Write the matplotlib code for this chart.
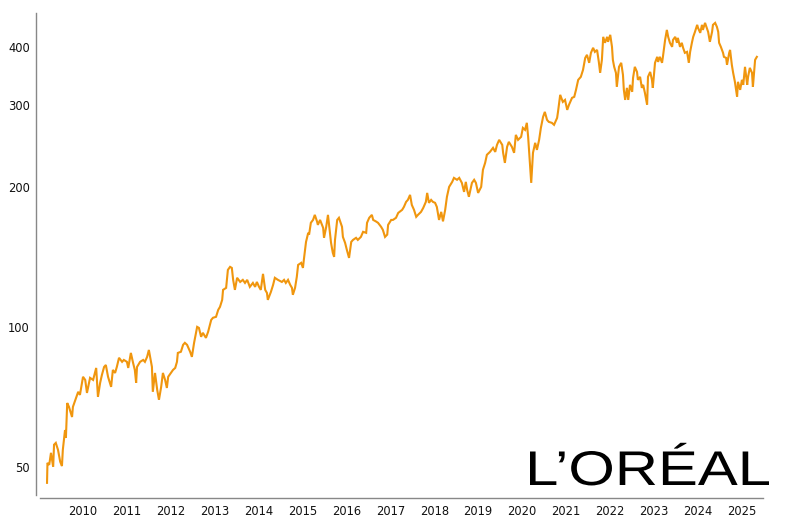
import matplotlib
matplotlib.use("Agg")
import matplotlib.pyplot as plt
import matplotlib.ticker as mticker
import matplotlib.transforms as mtransforms
from matplotlib.textpath import TextPath
from matplotlib.patches import PathPatch
from matplotlib.font_manager import FontProperties

# share price (decimal year, EUR)
years = [
    2009.18, 2009.19, 2009.23, 2009.27, 2009.32, 2009.34, 2009.38, 2009.43, 2009.48, 2009.52,
    2009.54, 2009.59, 2009.61, 2009.64, 2009.68, 2009.75, 2009.77, 2009.84, 2009.89, 2009.93,
    2010.00, 2010.05, 2010.09, 2010.16, 2010.23, 2010.30, 2010.34, 2010.39, 2010.43, 2010.48,
    2010.52, 2010.57, 2010.64, 2010.68, 2010.73, 2010.77, 2010.82, 2010.89, 2010.93, 2011.00,
    2011.03, 2011.09, 2011.14, 2011.18, 2011.21, 2011.23, 2011.30, 2011.37, 2011.41, 2011.46,
    2011.50, 2011.57, 2011.59, 2011.64, 2011.69, 2011.73, 2011.78, 2011.82, 2011.87, 2011.91,
    2011.94, 2012.00, 2012.05, 2012.10, 2012.14, 2012.16, 2012.23, 2012.28, 2012.32, 2012.37,
    2012.44, 2012.48, 2012.53, 2012.60, 2012.64, 2012.69, 2012.73, 2012.80, 2012.85, 2012.92,
    2012.96, 2013.03, 2013.08, 2013.12, 2013.17, 2013.19, 2013.26, 2013.30, 2013.35, 2013.39,
    2013.42, 2013.46, 2013.51, 2013.58, 2013.64, 2013.69, 2013.74, 2013.80, 2013.87, 2013.92,
    2013.96, 2014.01, 2014.05, 2014.10, 2014.15, 2014.19, 2014.21, 2014.28, 2014.33, 2014.37,
    2014.44, 2014.53, 2014.58, 2014.62, 2014.67, 2014.72, 2014.76, 2014.78, 2014.83, 2014.87,
    2014.90, 2014.97, 2015.01, 2015.03, 2015.08, 2015.13, 2015.15, 2015.19, 2015.24, 2015.28,
    2015.33, 2015.35, 2015.40, 2015.47, 2015.49, 2015.54, 2015.58, 2015.60, 2015.65, 2015.69,
    2015.72, 2015.74, 2015.79, 2015.83, 2015.90, 2015.92, 2015.97, 2016.01, 2016.06, 2016.11,
    2016.15, 2016.22, 2016.26, 2016.33, 2016.38, 2016.45, 2016.47, 2016.52, 2016.58, 2016.61,
    2016.67, 2016.72, 2016.79, 2016.83, 2016.88, 2016.93, 2016.95, 2017.02, 2017.06, 2017.13,
    2017.18, 2017.27, 2017.31, 2017.36, 2017.40, 2017.45, 2017.49, 2017.54, 2017.59, 2017.63,
    2017.70, 2017.75, 2017.81, 2017.84, 2017.88, 2017.93, 2017.97, 2018.02, 2018.06, 2018.11,
    2018.16, 2018.20, 2018.25, 2018.29, 2018.34, 2018.41, 2018.45, 2018.52, 2018.57, 2018.63,
    2018.68, 2018.72, 2018.75, 2018.79, 2018.86, 2018.91, 2018.95, 2019.00, 2019.07, 2019.11,
    2019.16, 2019.20, 2019.27, 2019.34, 2019.39, 2019.43, 2019.48, 2019.55, 2019.57, 2019.61,
    2019.66, 2019.70, 2019.77, 2019.82, 2019.86, 2019.91, 2019.98, 2020.02, 2020.07, 2020.11,
    2020.14, 2020.18, 2020.21, 2020.25, 2020.30, 2020.34, 2020.39, 2020.43, 2020.48, 2020.52,
    2020.57, 2020.61, 2020.68, 2020.73, 2020.80, 2020.82, 2020.87, 2020.93, 2020.98, 2021.03,
    2021.07, 2021.14, 2021.19, 2021.23, 2021.28, 2021.34, 2021.39, 2021.44, 2021.48, 2021.53,
    2021.57, 2021.62, 2021.66, 2021.71, 2021.75, 2021.78, 2021.82, 2021.85, 2021.89, 2021.94,
    2021.96, 2022.01, 2022.05, 2022.07, 2022.10, 2022.14, 2022.16, 2022.21, 2022.26, 2022.30,
    2022.32, 2022.35, 2022.39, 2022.42, 2022.46, 2022.51, 2022.53, 2022.57, 2022.62, 2022.64,
    2022.69, 2022.73, 2022.76, 2022.80, 2022.85, 2022.87, 2022.92, 2022.96, 2022.98, 2023.03,
    2023.08, 2023.10, 2023.14, 2023.19, 2023.21, 2023.26, 2023.30, 2023.33, 2023.37, 2023.42,
    2023.44, 2023.49, 2023.53, 2023.55, 2023.60, 2023.64, 2023.67, 2023.71, 2023.76, 2023.80,
    2023.83, 2023.87, 2023.90, 2023.94, 2023.99, 2024.01, 2024.06, 2024.10, 2024.12, 2024.17,
    2024.21, 2024.24, 2024.28, 2024.33, 2024.35, 2024.40, 2024.44, 2024.47, 2024.49, 2024.53,
    2024.58, 2024.60, 2024.65, 2024.67, 2024.72, 2024.74, 2024.78, 2024.81, 2024.85, 2024.90,
    2024.92, 2024.97, 2025.01, 2025.04, 2025.08, 2025.13, 2025.15, 2025.19, 2025.24, 2025.26,
    2025.29, 2025.31, 2025.35,
]
prices = [
    46.2, 51.0, 50.5, 53.6, 50.0, 55.8, 56.3, 54.4, 51.3, 50.2,
    54.4, 60.0, 57.7, 68.6, 67.3, 64.0, 67.3, 70.3, 72.5, 71.4,
    78.1, 76.9, 72.1, 77.7, 76.9, 81.6, 70.7, 75.8, 78.8, 82.0,
    82.8, 78.1, 74.3, 80.8, 79.6, 82.0, 85.8, 84.1, 84.9, 84.1,
    81.6, 87.9, 83.7, 80.8, 75.8, 82.0, 84.1, 84.9, 84.1, 86.2,
    89.2, 82.0, 72.5, 79.6, 73.2, 69.7, 74.3, 79.6, 76.9, 73.9,
    78.1, 79.6, 80.8, 81.6, 84.1, 87.9, 88.4, 91.5, 92.4, 91.5,
    88.4, 86.2, 92.4, 100.0, 99.5, 95.2, 97.1, 94.7, 97.6, 103.5,
    104.6, 105.1, 108.8, 110.4, 114.3, 120.1, 121.3, 132.6, 134.6, 133.9,
    126.2, 120.1, 127.5, 124.9, 126.2, 124.3, 126.2, 121.9, 124.3, 121.9,
    124.9, 121.9, 120.1, 130.0, 120.1, 118.3, 114.3, 118.9, 123.1, 127.5,
    126.2, 124.9, 126.2, 124.3, 126.2, 123.1, 121.3, 117.2, 121.3, 128.1,
    135.9, 137.3, 133.9, 139.3, 152.3, 159.3, 157.9, 167.4, 169.8, 174.1,
    168.6, 165.7, 169.8, 163.3, 155.4, 164.1, 174.1, 167.4, 151.6, 144.3,
    141.4, 153.8, 169.8, 171.6, 164.1, 156.1, 151.6, 146.4, 140.7, 152.3,
    153.8, 155.4, 153.8, 156.1, 160.1, 159.3, 167.4, 171.6, 174.1, 169.8,
    168.6, 167.4, 164.1, 161.7, 156.1, 157.9, 165.7, 169.8, 169.8, 171.6,
    175.8, 178.5, 181.1, 185.7, 187.5, 192.2, 182.9, 178.5, 172.4, 174.1,
    176.7, 180.2, 185.7, 194.1, 184.8, 187.5, 185.7, 184.8, 181.1, 169.8,
    176.7, 168.6, 178.5, 190.4, 200.0, 205.0, 209.1, 207.1, 209.1, 204.0,
    195.1, 205.0, 197.1, 190.4, 204.0, 207.1, 204.0, 194.1, 200.0, 217.6,
    225.2, 234.4, 237.8, 242.6, 237.8, 246.2, 252.4, 246.2, 236.7, 225.2,
    243.8, 249.9, 243.8, 236.7, 258.7, 252.4, 256.2, 267.8, 265.2, 274.6,
    256.2, 225.2, 204.0, 236.7, 248.7, 240.2, 252.4, 267.8, 282.8, 289.9,
    278.7, 275.9, 274.6, 271.9, 281.4, 289.9, 315.4, 304.6, 307.6, 292.8,
    300.2, 310.8, 312.3, 323.3, 339.7, 344.8, 356.9, 378.7, 384.5, 369.6,
    388.3, 398.1, 390.2, 394.0, 371.3, 351.7, 375.0, 420.3, 408.1, 420.3,
    410.1, 424.5, 400.0, 375.0, 362.3, 351.7, 328.1, 362.3, 369.6, 348.2,
    323.3, 307.6, 326.5, 307.6, 331.4, 320.2, 343.1, 362.3, 353.3, 339.7,
    344.8, 326.5, 331.4, 318.5, 300.2, 344.8, 353.3, 339.7, 326.5, 369.6,
    380.7, 371.3, 380.7, 369.6, 380.7, 414.0, 435.0, 420.3, 408.1, 400.0,
    414.0, 420.3, 408.1, 418.2, 400.0, 408.1, 398.1, 388.3, 390.2, 369.6,
    390.2, 408.1, 420.3, 430.8, 446.0, 439.5, 428.7, 446.0, 435.0, 450.4,
    439.5, 430.8, 410.1, 430.8, 446.0, 450.4, 441.6, 430.8, 408.1, 400.0,
    388.3, 380.7, 378.7, 365.9, 388.3, 394.0, 365.9, 351.7, 336.4, 312.3,
    336.4, 323.3, 339.7, 331.4, 362.3, 331.4, 344.8, 360.5, 351.7, 328.1,
    356.9, 375.0, 380.7,
]

year_ticks = list(range(2010, 2026))
price_ticks = [50, 100, 200, 300, 400]

fig = plt.figure(figsize=(8, 5.2), dpi=100)
ax = fig.add_axes([40 / 800, 25 / 520, 723 / 800, 482 / 520])

ax.plot(years, prices, color="#F0960E", lw=1.5, solid_joinstyle="miter")

ax.set_yscale("log")
ax.set_xlim(2009.02, 2025.49)
ax.set_ylim(43.5, 473)

ax.yaxis.set_major_locator(mticker.FixedLocator(price_ticks))
ax.yaxis.set_minor_locator(mticker.NullLocator())
ax.yaxis.set_major_formatter(mticker.FuncFormatter(lambda v, p: f"{v:g}"))
ax.set_xticks(year_ticks)
ax.set_xticklabels([str(y) for y in year_ticks])
ax.xaxis.set_minor_locator(mticker.NullLocator())

ax.tick_params(axis="both", length=0, labelsize=8.3, labelcolor="#111111")
ax.tick_params(axis="y", pad=4.3)
ax.tick_params(axis="x", pad=5)
for lbl in ax.get_xticklabels() + ax.get_yticklabels():
    lbl.set_family("Liberation Sans")

for side in ["top", "right"]:
    ax.spines[side].set_visible(False)
for side in ["left", "bottom"]:
    ax.spines[side].set_color("#888888")
    ax.spines[side].set_linewidth(1)
ax.spines["left"].set_position(("outward", 2.9))
ax.spines["bottom"].set_position(("outward", 2.2))

# logo, fitted into its box (pixels)
fp = FontProperties(family="Liberation Sans")
logo = TextPath((0, 0), "L\u2019OR\u00c9AL", size=100, prop=fp)
cap = TextPath((0, 0), "L", size=100, prop=fp).get_extents()
ext = logo.get_extents()
sx = 239 / ext.width
sy = 33.5 / cap.height
tr = mtransforms.Affine2D().translate(-ext.x0, 0).scale(sx, sy).translate(530, 520 - 485)
fig.add_artist(PathPatch(logo, transform=tr, facecolor="black", edgecolor="none"))

fig.savefig("out.png", dpi=100)
